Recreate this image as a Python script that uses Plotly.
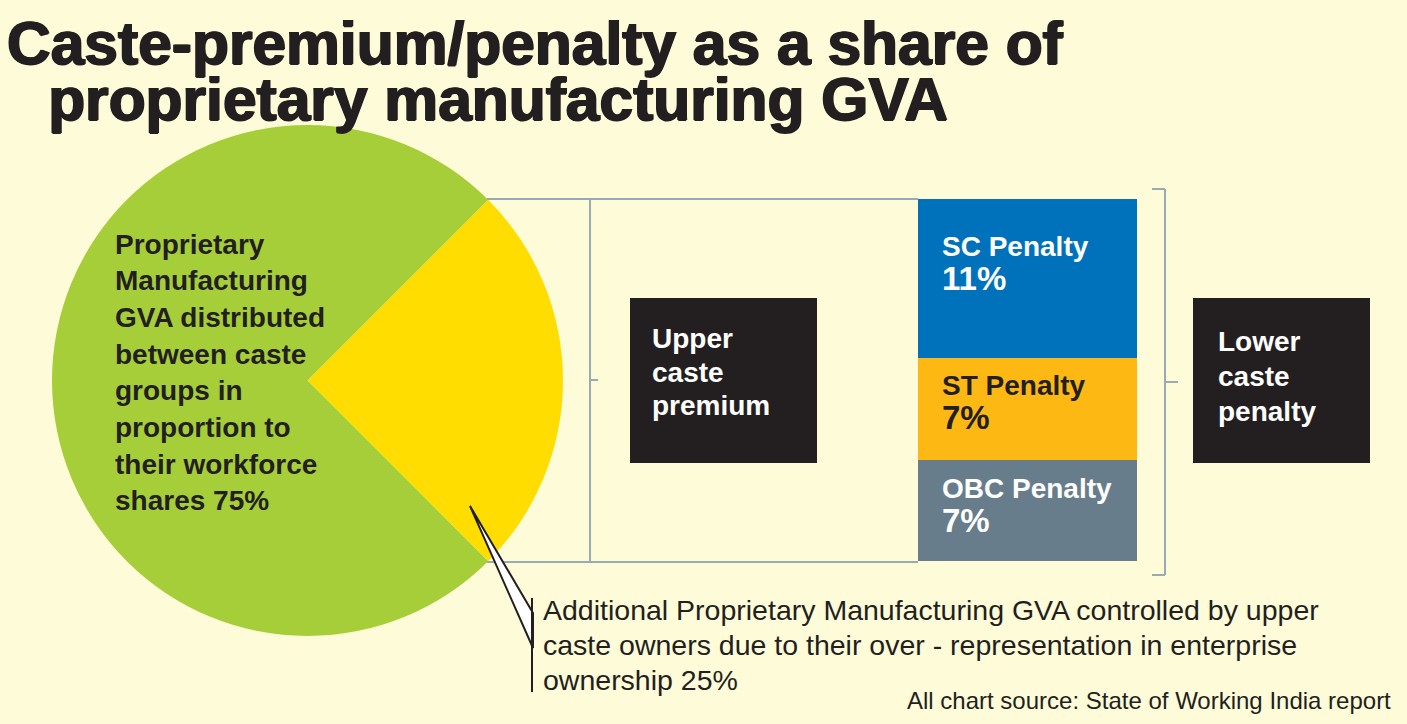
import plotly.graph_objects as go

W, H = 1407, 724

# ---------------- data ----------------
pie_labels = ["Upper caste over-representation", "Workforce-share distribution"]
pie_values = [25, 75]
pie_colors = ["#FFDD00", "#A6CE39"]

bar_groups = ["OBC Penalty", "ST Penalty", "SC Penalty"]   # bottom -> top
bar_values = [7, 7, 11]
bar_colors = ["#687D8B", "#FDB813", "#0072BC"]
bar_text_colors = ["#FFFFFF", "#231F20", "#FFFFFF"]

title_lines = ["Caste-premium/penalty as a share of", "proprietary manufacturing GVA"]
pie_text_lines = ["Proprietary", "Manufacturing", "GVA distributed", "between caste",
                  "groups in", "proportion to", "their workforce",
                  f"shares {pie_values[1]}%"]
callout_lines = ["Additional Proprietary Manufacturing GVA controlled by upper",
                 "caste owners due to their over - representation in enterprise",
                 f"ownership {pie_values[0]}%"]
upper_box_lines = ["Upper", "caste", "premium"]
lower_box_lines = ["Lower", "caste", "penalty"]
source_text = "All chart source: State of Working India report"

# ---------------- styling helpers ----------------
BG = "#FEFBD9"
DARK = "#231F20"
LINE = "#98AAB4"
FONT = "Liberation Sans, Arial, sans-serif"


def px(x):
    return x / W


def py(y):
    return 1 - y / H


fig = go.Figure()

# Pie
fig.add_trace(go.Pie(
    labels=pie_labels, values=pie_values, sort=False, direction="clockwise",
    rotation=45, marker=dict(colors=pie_colors, line=dict(width=0)),
    textinfo="none", hoverinfo="skip", showlegend=False,
    domain=dict(x=[px(52), px(563)], y=[py(636), py(125)]),
))

# Stacked bar
for g, v, c in zip(bar_groups, bar_values, bar_colors):
    fig.add_trace(go.Bar(
        x=[0], y=[v], name=g, marker=dict(color=c, line=dict(width=0)),
        width=1, hoverinfo="skip", showlegend=False, xaxis="x", yaxis="y",
    ))

annotations = []


def text(x, y, s, size, color=DARK, bold=True, xanchor="left", yanchor="middle", shadow=None):
    font = dict(size=size, color=color, family=FONT)
    if shadow:
        font["shadow"] = shadow
    annotations.append(dict(
        x=px(x), y=py(y), xref="paper", yref="paper", text=(f"<b>{s}</b>" if bold else s),
        showarrow=False, xanchor=xanchor, yanchor=yanchor, align="left",
        font=font, borderpad=0,
    ))


def span(s, size):
    return f'<span style="font-size:{size}px">{s}</span>'


# Title (one text block; tight leading from the small base size)
NB = "\u00a0"
title_html = (span(title_lines[0], 60.5) + "<br>" + span(NB * 2, 60.5) + span(NB, 27)
              + span(title_lines[1], 60.5))
text(6, 8.2, title_html, 43, yanchor="top",
     shadow=f"1px 0px 0px {DARK}, -1px 0px 0px {DARK}, 0px 1px 0px {DARK}")

# Pie text
for i, s in enumerate(pie_text_lines):
    text(114, 244 + 36.7 * i, s, 28)

# Callout text
for i, s in enumerate(callout_lines):
    text(542, 610 + 35 * i, s, 28.5, bold=False)

# Boxes text
for i, s in enumerate(upper_box_lines):
    text(651, 338.5 + 33.5 * i, s, 28, color="#FFFFFF")
for i, s in enumerate(lower_box_lines):
    text(1217, 342 + 34.5 * i, s, 28, color="#FFFFFF")

# Bar labels
bar_label_top = {"SC Penalty": 229.7, "ST Penalty": 368.7, "OBC Penalty": 471.7}
for g, v, tc in zip(bar_groups, bar_values, bar_text_colors):
    html = span(g, 28) + "<br>" + span(f"{v}%", 33)
    text(941, bar_label_top[g], html, 26, color=tc, yanchor="top")

# Source
text(1392, 700, source_text, 24, bold=False, xanchor="right")

shapes = []


def line(x0, y0, x1, y1, color=LINE, width=2):
    shapes.append(dict(type="line", xref="paper", yref="paper",
                       x0=px(x0), y0=py(y0), x1=px(x1), y1=py(y1),
                       line=dict(color=color, width=width)))


# left bracket / connector lines
line(487, 199, 918, 199)
line(487, 562, 918, 562)
line(590, 199, 590, 562)
line(590, 380, 598, 380)
# right bracket
line(1152, 189, 1165, 189)
line(1165, 189, 1165, 575)
line(1152, 575, 1165, 575)
line(1165, 382, 1178, 382)

# black boxes
for x0, x1 in [(630, 817), (1193, 1370)]:
    shapes.append(dict(type="rect", xref="paper", yref="paper",
                       x0=px(x0), x1=px(x1), y0=py(463), y1=py(298),
                       fillcolor=DARK, line=dict(width=0), layer="above"))

# callout pointer
pts = [(470, 506), (533, 613), (533, 648)]
path = "M " + " L ".join(f"{px(a)},{py(b)}" for a, b in pts) + " Z"
shapes.append(dict(type="path", xref="paper", yref="paper", path=path,
                   fillcolor="#FFFFFF", line=dict(color=DARK, width=2), layer="above"))
line(532, 598, 532, 692, color=DARK, width=2)

fig.update_layout(
    width=W, height=H, margin=dict(l=0, r=0, t=0, b=0),
    paper_bgcolor=BG, plot_bgcolor="rgba(0,0,0,0)",
    barmode="stack", bargap=0,
    xaxis=dict(domain=[px(918), px(1137)], range=[-0.5, 0.5], visible=False, fixedrange=True),
    yaxis=dict(domain=[py(561), py(199)], range=[0, sum(bar_values)], visible=False, fixedrange=True),
    annotations=annotations, shapes=shapes, hovermode=False,
)

fig.write_html("out.html", config={"displayModeBar": False})
